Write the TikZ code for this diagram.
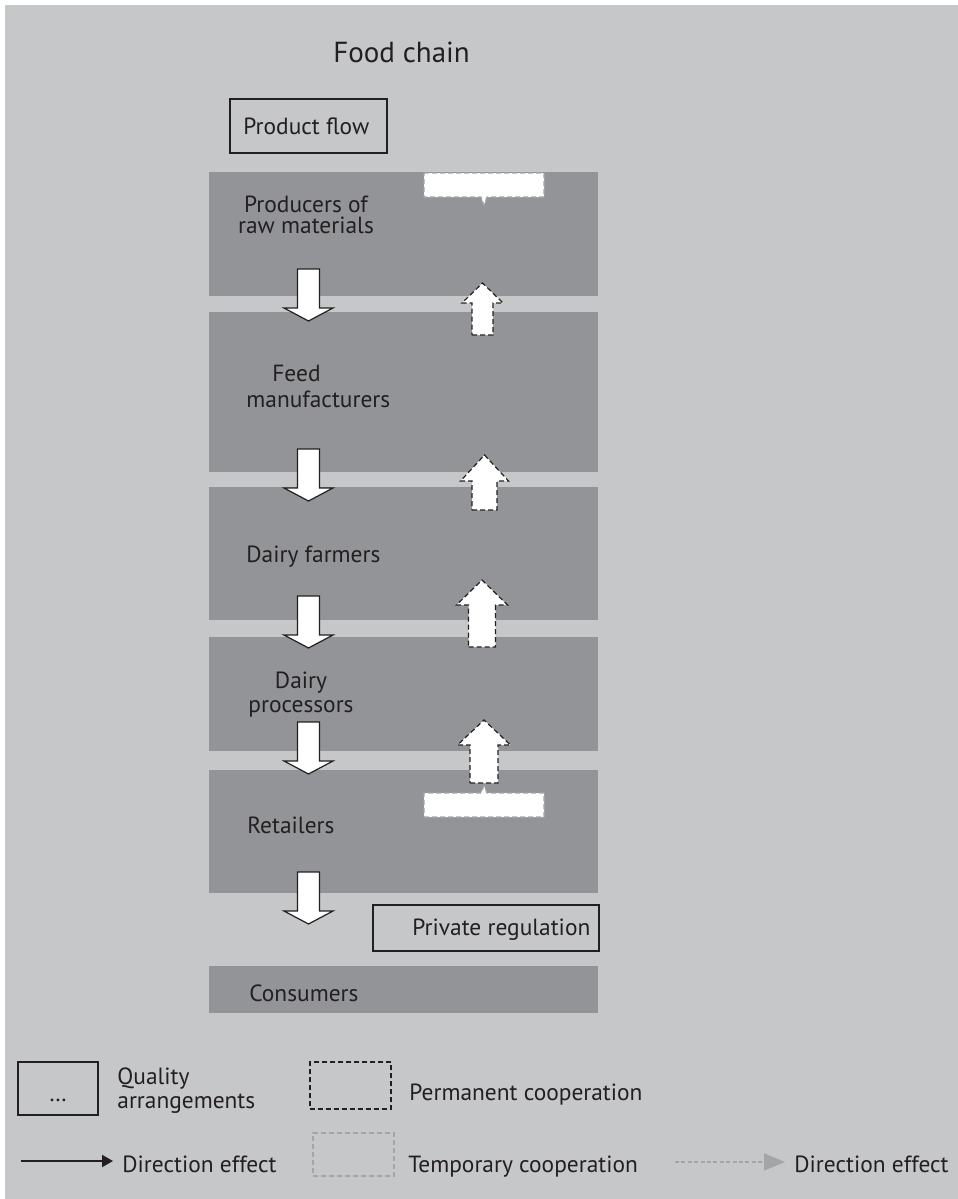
\documentclass[tikz,border=0pt]{standalone}
\usepackage{fontspec}
\setmainfont{PT Sans}
\usetikzlibrary{arrows.meta,fit}

\definecolor{pagebg}{HTML}{C6C7C9}
\definecolor{stagefill}{HTML}{939498}
\definecolor{ink}{HTML}{231F20}
\definecolor{tempgrey}{HTML}{A3A5A8}

\tikzset{
  stage/.style={fill=stagefill, draw=none, inner sep=0pt},
  lbl/.style={inner sep=0pt, text=ink, font=\fontsize{11.7}{11}\selectfont},
  titlelbl/.style={inner sep=0pt, text=ink, font=\fontsize{14.5}{16}\selectfont},
  frame/.style={draw=ink, line width=0.6pt, inner sep=0pt},
  permdash/.style={draw=ink, line width=0.6pt, dash pattern=on 2.5pt off 1.5pt},
  tempdash/.style={draw=tempgrey, line width=0.6pt, dash pattern=on 2.5pt off 1.5pt},
  flowarrow/.style={fill=white, draw=ink, line width=0.6pt, line join=miter},
  feedback/.style={fill=white, permdash, line join=miter},
  tempnote/.style={fill=white, tempdash},
}

% block arrow pointing down: centre x, top y
\newcommand\flowdown[2]{%
  \draw[flowarrow] (#1-11,#2) -- (#1+11,#2) -- (#1+11,#2+39) -- (#1+24.5,#2+39)
    -- (#1,#2+52) -- (#1-24.5,#2+39) -- (#1-11,#2+39) -- cycle;}
% block arrow pointing up: centre x, bottom, head base, tip, shaft half width, head half width
\newcommand\feedup[6]{%
  \draw[feedback] (#1-#5,#2) -- (#1+#5,#2) -- (#1+#5,#3) -- (#1+#6,#3)
    -- (#1,#4) -- (#1-#6,#3) -- (#1-#5,#3) -- cycle;}

\begin{document}
\begin{tikzpicture}[x=0.5pt, y=-0.5pt]
  \useasboundingbox[fill=white] (0,0) rectangle (958,1199);
  \fill[pagebg] (5,5) rectangle (958,1199);

  % title and product flow label
  \node[titlelbl, anchor=base west] (title) at (333,62) {Food chain};
  \node[frame, fit={(230,99)(387,153)}] (pflowbox) {};
  \node[lbl, anchor=base west] (pflow) at (243,134) {Product flow};

  % stages of the chain
  \node[stage, fit={(209,172)(598,296)}] (b1) {};
  \node[stage, fit={(209,312)(598,472)}] (b2) {};
  \node[stage, fit={(209,487)(598,620)}] (b3) {};
  \node[stage, fit={(209,637)(598,751)}] (b4) {};
  \node[stage, fit={(209,770)(598,893)}] (b5) {};
  \node[stage, fit={(209,966)(598,1013)}] (cons) {};

  % the base of a two-line label is the baseline of its last line
  \node[lbl, anchor=base, align=center, font=\fontsize{11.7}{10.5}\selectfont] (t1) at (306,233) {Producers of\\raw materials};
  \node[lbl, anchor=base west, align=left, font=\fontsize{11.7}{13}\selectfont] (t2) at (246,407) {\hspace*{13pt}Feed\\manufacturers};
  \node[lbl, anchor=base west] (t3) at (246,562) {Dairy farmers};
  \node[lbl, anchor=base, align=center, font=\fontsize{11.7}{12}\selectfont] (t4) at (301,712) {Dairy\\processors};
  \node[lbl, anchor=base west] (t5) at (247,833) {Retailers};
  \node[lbl, anchor=base west] (t6) at (249,1001) {Consumers};

  % private regulation
  \node[frame, fit={(373,905)(599,951)}] (pregbox) {};
  \node[lbl, anchor=base west] (preg) at (412,935) {Private regulation};

  % temporary cooperation notes
  \draw[tempnote] (424,173) -- (544,173) -- (544,197) -- (487,197) -- (484,205)
    -- (481,197) -- (424,197) -- cycle;
  \draw[tempnote] (424,817) -- (544,817) -- (544,793) -- (487,793) -- (484,786)
    -- (481,793) -- (424,793) -- cycle;

  % product flow arrows
  \flowdown{308.5}{269}
  \flowdown{308.5}{449}
  \flowdown{308.5}{596}
  \flowdown{308.5}{722}
  \flowdown{308.5}{872}

  % feedback arrows (permanent cooperation)
  \feedup{482.5}{335}{303}{283}{10.5}{20.5}
  \feedup{484.5}{510}{481}{455}{12.5}{24}
  \feedup{482}{647}{605}{580}{13.5}{25.5}
  \feedup{484}{783}{745}{720}{14}{26.5}

  % legend
  \node[frame, fit={(18,1062)(98,1115)}] (qbox) {};
  \node[lbl, anchor=base] (qdots) at (58,1101) {\dots};
  \node[lbl, anchor=base west, align=left, font=\fontsize{11.7}{12}\selectfont] (qtext) at (117,1108) {Quality\\arrangements};

  \node[permdash, inner sep=0pt, fit={(310,1062)(391,1109)}] (pbox) {};
  \node[lbl, anchor=base west] (ptext) at (409,1100) {Permanent cooperation};

  \node[tempdash, inner sep=0pt, fit={(313,1133)(394,1176)}] (tbox) {};
  \node[lbl, anchor=base west] (ttext) at (408,1172) {Temporary cooperation};

  \coordinate (sa) at (21,1161);
  \coordinate (sb) at (113,1161);
  \draw[draw=ink, line width=1pt, -{Triangle[length=5.5pt,width=6pt]}] (sa) -- (sb);
  \node[lbl, anchor=base west] (stext) at (122,1172) {Direction effect};

  \coordinate (ga) at (675,1162);
  \coordinate (gb) at (785,1162);
  \draw[draw=tempgrey, line width=0.8pt, dash pattern=on 2pt off 1.2pt,
        -{Triangle[length=10.5pt,width=8.5pt,fill=tempgrey]}] (ga) -- (gb);
  \node[lbl, anchor=base west] (gtext) at (794,1172) {Direction effect};
\end{tikzpicture}
\end{document}
